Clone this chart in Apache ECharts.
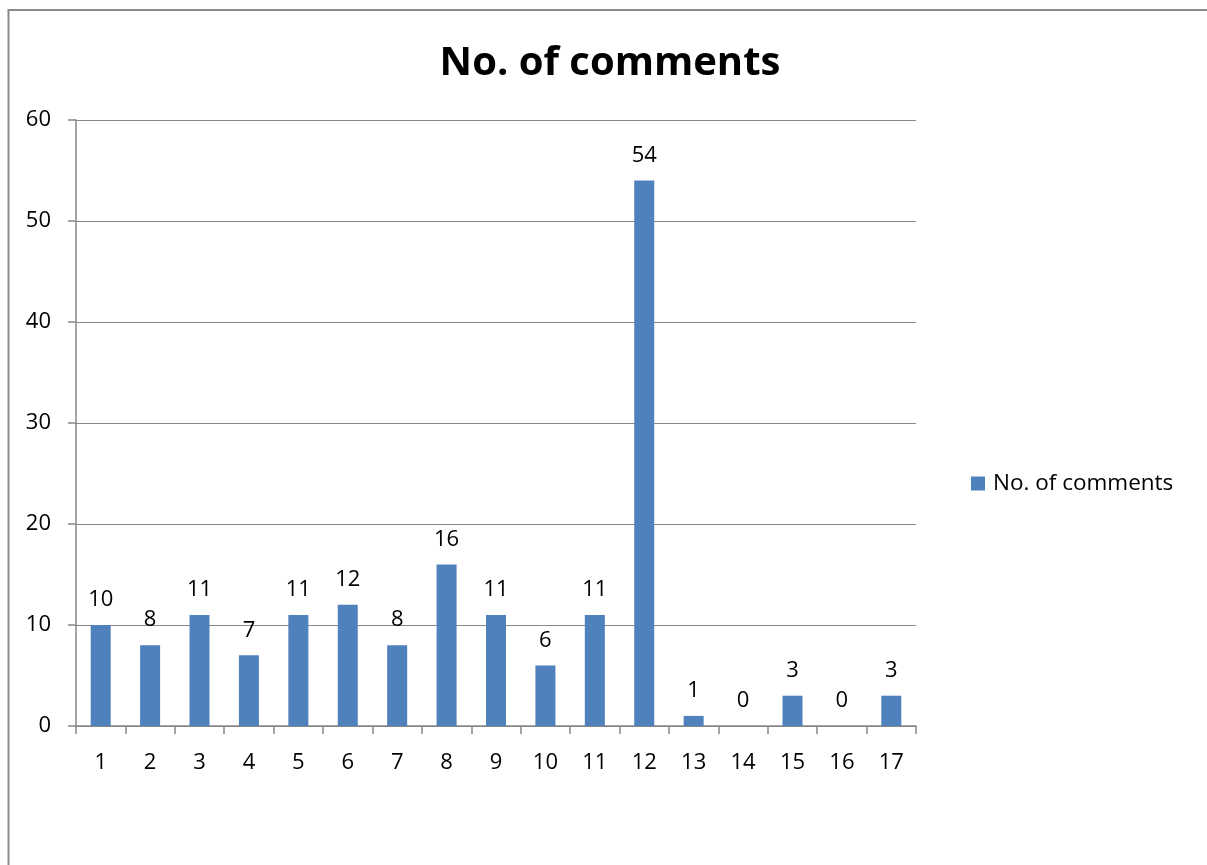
<!DOCTYPE html>
<html>
<head>
<meta charset="utf-8">
<script src="https://cdn.jsdelivr.net/npm/echarts@6/dist/echarts.min.js"></script>
<style>
html,body{margin:0;padding:0;background:#fff;}
#chart{width:1207px;height:865px;}
</style>
</head>
<body>
<div id="chart"></div>
<script>
var categories = ['1','2','3','4','5','6','7','8','9','10','11','12','13','14','15','16','17'];
var commentCounts = [10, 8, 11, 7, 11, 12, 8, 16, 11, 6, 11, 54, 1, 0, 3, 0, 3];
var seriesName = 'No. of comments';
var titleText = 'No. of comments';

var FONT = '"Open Sans", "Noto Sans", sans-serif';
var chart = echarts.init(document.getElementById('chart'), null, {renderer: 'canvas'});
chart.setOption({
  backgroundColor: '#ffffff',
  animation: false,
  title: {
    text: titleText,
    left: 610,
    textAlign: 'center',
    top: 44,
    padding: 0,
    textStyle: {fontFamily: FONT, fontWeight: 'bold', fontSize: 40, color: '#000'}
  },
  legend: {
    data: [seriesName],
    left: 971,
    top: 472,
    padding: 0,
    icon: 'rect',
    itemWidth: 14,
    itemHeight: 14,
    itemGap: 10,
    textStyle: {fontFamily: FONT, fontSize: 22.5, color: '#000', padding: [0,0,0,3]}
  },
  grid: {left: 76, top: 120, right: 291, bottom: 139, containLabel: false},
  xAxis: {
    type: 'category',
    data: categories,
    axisLine: {show: true, lineStyle: {color: '#878787', width: 1.5}},
    axisTick: {show: true, length: 8, lineStyle: {color: '#878787', width: 1.5}},
    axisLabel: {fontFamily: FONT, fontSize: 22, color: '#000', margin: 26},
    splitLine: {show: false}
  },
  yAxis: {
    type: 'value',
    min: 0,
    max: 60,
    interval: 10,
    axisLine: {show: true, lineStyle: {color: '#878787', width: 1.5}},
    axisTick: {show: true, length: 8, lineStyle: {color: '#878787', width: 1.5}},
    axisLabel: {fontFamily: FONT, fontSize: 22, color: '#000', margin: 25},
    splitLine: {show: true, lineStyle: {color: '#878787', width: 1.2}}
  },
  series: [{
    name: seriesName,
    type: 'bar',
    data: commentCounts,
    barWidth: 20,
    itemStyle: {color: '#4F81BD'},
    label: {
      show: true,
      position: 'top',
      distance: 14,
      fontFamily: FONT,
      fontSize: 22,
      color: '#000'
    }
  }],
  graphic: [
    {type: 'line', shape: {x1: 8, y1: 10, x2: 1207, y2: 10}, style: {stroke: '#8a8a8a', lineWidth: 2}, silent: true},
    {type: 'line', shape: {x1: 8.5, y1: 9, x2: 8.5, y2: 865}, style: {stroke: '#8a8a8a', lineWidth: 2}, silent: true}
  ]
});
</script>
</body>
</html>
